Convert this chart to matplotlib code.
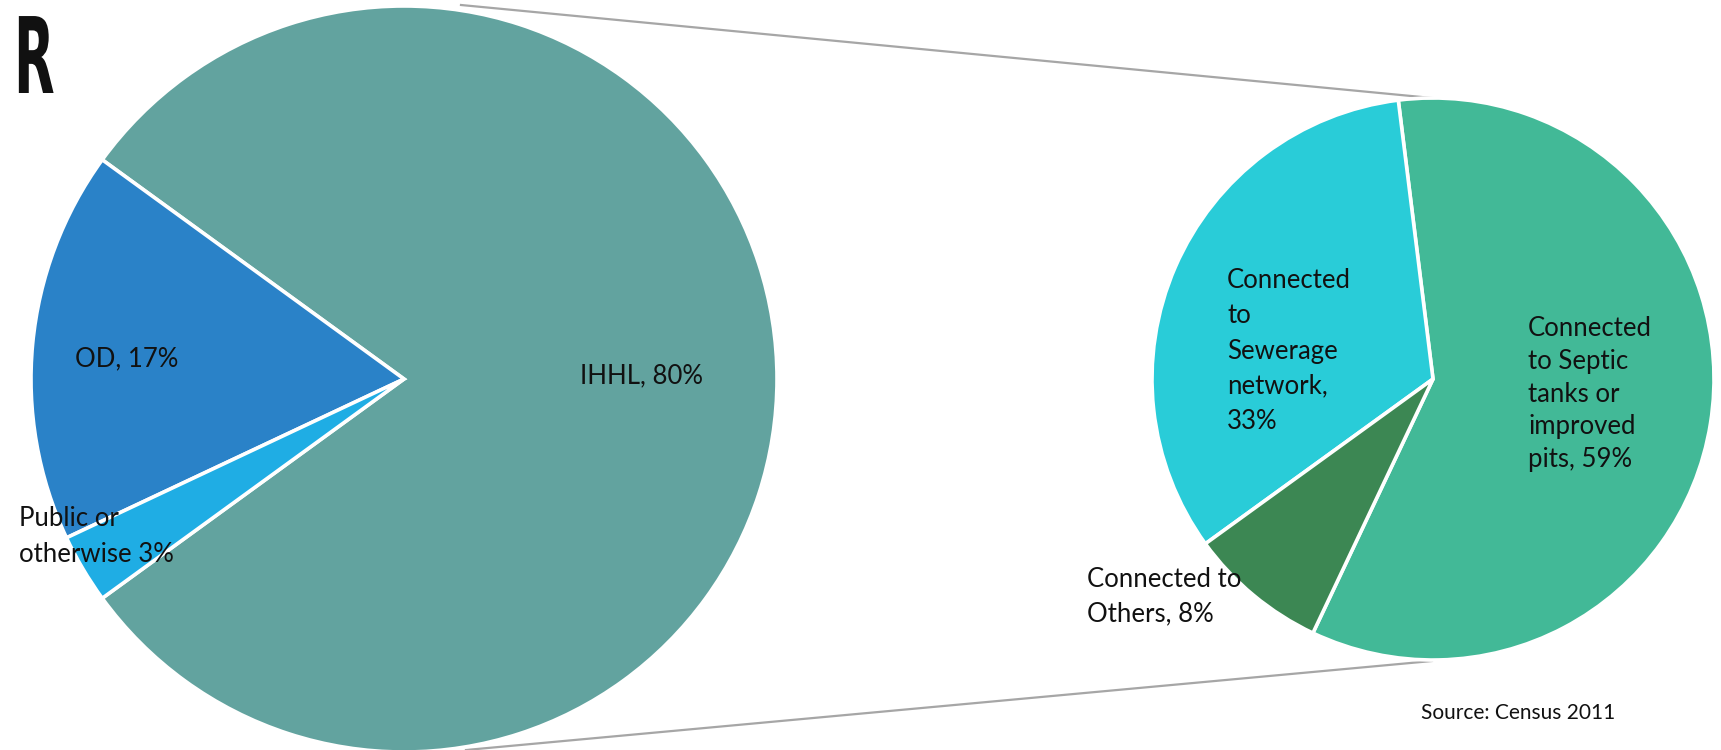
import matplotlib
matplotlib.use("Agg")
import matplotlib.pyplot as plt
from matplotlib import patheffects
from matplotlib.transforms import Affine2D

# Data
main_labels = ["IHHL, 80%", "OD, 17%", "Public or\notherwise 3%"]
main_values = [80, 17, 3]
main_colors = ["#62A39F", "#2A82C8", "#1FADE4"]

sub_labels = ["Connected\nto Septic\ntanks or\nimproved\npits, 59%",
              "Connected\nto\nSewerage\nnetwork,\n33%",
              "Connected to\nOthers, 8%"]
sub_values = [59, 33, 8]
sub_colors = ["#42B997", "#29CCD8", "#3C8753"]

source_text = "Source: Census 2011"

W, H = 1721, 750
fig = plt.figure(figsize=(W / 100, H / 100), dpi=100)
ax = fig.add_axes([0, 0, 1, 1])

FONT = ["Lato", "DejaVu Sans"]


class CondenseX(patheffects.AbstractPathEffect):
    """Horizontally condense the glyphs around a given display x."""
    def __init__(self, sx, x0):
        super().__init__()
        self.sx = sx
        self.x0 = x0

    def draw_path(self, renderer, gc, tpath, affine, rgbFace=None):
        t = affine + Affine2D().translate(-self.x0, 0).scale(self.sx, 1).translate(self.x0, 0)
        renderer.draw_path(gc, tpath, t, rgbFace)


# connector lines (behind pies)
ax.plot([461, 1432], [H - 5, H - 98], color="#A6A6A6", lw=1.6, zorder=1)
ax.plot([466, 1432], [H - 750, H - 661], color="#A6A6A6", lw=1.6, zorder=1)

wp = dict(edgecolor="white", linewidth=2.6)
w1, _ = ax.pie(main_values, colors=main_colors, startangle=-144,
               center=(404, H - 379), radius=373, wedgeprops=wp)
w2, _ = ax.pie(sub_values, colors=sub_colors, startangle=-115.3,
               center=(1433, H - 379), radius=281, wedgeprops=wp)
for w in list(w1) + list(w2):
    w.set_zorder(2)

ax.set_xlim(0, W)
ax.set_ylim(0, H)
ax.set_aspect("equal")
ax.axis("off")

tc = "#111111"
fs = 18.5
# main pie labels
ax.text(641, H - 376, main_labels[0], ha="center", va="center", fontsize=fs, color=tc, family=FONT, zorder=5)
ax.text(75, H - 359, main_labels[1], ha="left", va="center", fontsize=fs, color=tc, family=FONT, zorder=5)
ax.text(19, H - 537, main_labels[2], ha="left", va="center", fontsize=fs, color=tc, family=FONT, linespacing=1.55, zorder=5)

# sub pie labels
ax.text(1528, H - 394, sub_labels[0], ha="left", va="center", fontsize=fs, color=tc, family=FONT, linespacing=1.38, zorder=5)
ax.text(1227, H - 351, sub_labels[1], ha="left", va="center", fontsize=fs, color=tc, family=FONT, linespacing=1.51, zorder=5)
ax.text(1087, H - 597, sub_labels[2], ha="left", va="center", fontsize=fs, color=tc, family=FONT, linespacing=1.47, zorder=5)

ax.text(1421, H - 713, source_text, ha="left", va="center", fontsize=15, color=tc, family=FONT, zorder=5)

# logo letter
ax.text(14, H - 93, "R", ha="left", va="baseline", fontsize=76, fontweight="bold",
        color="#111111", family=["DejaVu Sans"], zorder=5,
        path_effects=[CondenseX(0.5, 14)])

fig.savefig("out.png", dpi=100)
